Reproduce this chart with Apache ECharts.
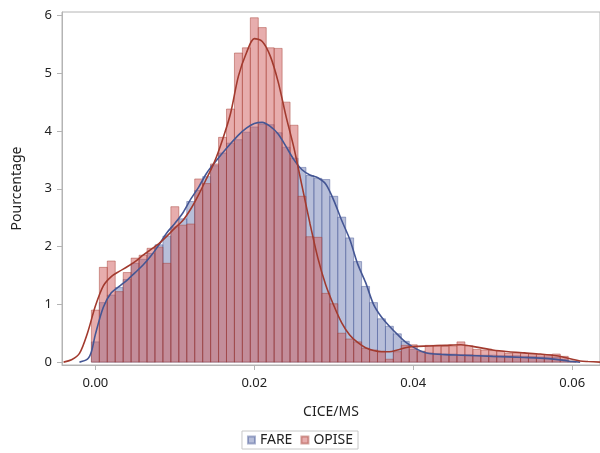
<!DOCTYPE html>
<html>
<head>
<meta charset="utf-8">
<script src="https://cdn.jsdelivr.net/npm/echarts@6/dist/echarts.min.js"></script>
<style>
  html, body { margin: 0; padding: 0; background: #fff; }
  #chart { width: 600px; height: 453px; }
</style>
</head>
<body>
<div id="chart"></div>
<script>
// histogram bins (centres), width 0.001
const binWidth = 0.001;
const binCenters = [
  0.000, 0.001, 0.002, 0.003, 0.004, 0.005, 0.006, 0.007, 0.008, 0.009,
  0.010, 0.011, 0.012, 0.013, 0.014, 0.015, 0.016, 0.017, 0.018, 0.019,
  0.020, 0.021, 0.022, 0.023, 0.024, 0.025, 0.026, 0.027, 0.028, 0.029,
  0.030, 0.031, 0.032, 0.033, 0.034, 0.035, 0.036, 0.037, 0.038, 0.039,
  0.040, 0.041, 0.042, 0.043, 0.044, 0.045, 0.046, 0.047, 0.048, 0.049,
  0.050, 0.051, 0.052, 0.053, 0.054, 0.055, 0.056, 0.057, 0.058, 0.059,
  0.060
];
const fareHist = [
  0.35, 1.03, 1.16, 1.29, 1.43, 1.71, 1.78, 1.88, 2.03, 2.18,
  2.34, 2.48, 2.78, 2.97, 3.21, 3.40, 3.62, 3.79, 3.85, 3.98,
  4.07, 4.12, 4.11, 3.97, 3.72, 3.53, 3.37, 3.23, 3.18, 3.16,
  2.87, 2.51, 2.15, 1.74, 1.31, 1.03, 0.75, 0.62, 0.49, 0.36,
  0.22, 0.18, 0.16, 0.15, 0.14, 0.14, 0.13, 0.13, 0.12, 0.12,
  0.12, 0.11, 0.11, 0.11, 0.10, 0.10, 0.09, 0.09, 0.08, 0.05,
  0.01
];
const opiseHist = [
  0.90, 1.64, 1.75, 1.22, 1.55, 1.80, 1.85, 1.97, 1.99, 1.71,
  2.69, 2.37, 2.39, 3.17, 3.09, 3.43, 3.89, 4.38, 5.35, 5.44,
  5.96, 5.79, 5.44, 5.43, 4.50, 4.10, 2.87, 2.17, 2.16, 1.19,
  1.01, 0.50, 0.40, 0.35, 0.24, 0.21, 0.19, 0.05, 0.18, 0.29,
  0.30, 0.19, 0.29, 0.29, 0.27, 0.28, 0.35, 0.28, 0.22, 0.21,
  0.20, 0.19, 0.15, 0.16, 0.15, 0.14, 0.13, 0.13, 0.14, 0.10,
  0.02
];

// kernel density curves
const fareKdeX = [
  -0.0020, -0.0010, -0.0005, 0.0000, 0.0010, 0.0020, 0.0030, 0.0040, 0.0050, 0.0060,
  0.0070, 0.0080, 0.0090, 0.0100, 0.0110, 0.0120, 0.0130, 0.0140, 0.0150, 0.0160,
  0.0170, 0.0180, 0.0190, 0.0200, 0.0210, 0.0220, 0.0230, 0.0240, 0.0250, 0.0260,
  0.0270, 0.0280, 0.0290, 0.0300, 0.0310, 0.0320, 0.0330, 0.0340, 0.0350, 0.0360,
  0.0370, 0.0380, 0.0390, 0.0400, 0.0410, 0.0420, 0.0440, 0.0460, 0.0500, 0.0540,
  0.0570, 0.0590, 0.0600, 0.0610
];
const fareKdeY = [
  0.00, 0.05, 0.18, 0.48, 0.95, 1.20, 1.31, 1.42, 1.55, 1.68,
  1.84, 2.03, 2.24, 2.40, 2.58, 2.82, 3.03, 3.27, 3.45, 3.62,
  3.78, 3.93, 4.05, 4.13, 4.15, 4.08, 3.95, 3.73, 3.50, 3.33,
  3.24, 3.19, 3.08, 2.80, 2.45, 2.13, 1.70, 1.38, 1.00, 0.78,
  0.62, 0.48, 0.35, 0.26, 0.19, 0.15, 0.13, 0.12, 0.10, 0.08,
  0.06, 0.03, 0.01, 0.00
];
const opiseKdeX = [
  -0.0040, -0.0030, -0.0020, -0.0010, 0.0000, 0.0010, 0.0020, 0.0030, 0.0040, 0.0050,
  0.0060, 0.0070, 0.0080, 0.0090, 0.0100, 0.0110, 0.0120, 0.0130, 0.0140, 0.0150,
  0.0160, 0.0170, 0.0180, 0.0190, 0.0200, 0.0210, 0.0220, 0.0230, 0.0240, 0.0250,
  0.0260, 0.0270, 0.0280, 0.0290, 0.0300, 0.0310, 0.0320, 0.0330, 0.0340, 0.0350,
  0.0360, 0.0370, 0.0380, 0.0390, 0.0400, 0.0420, 0.0440, 0.0460, 0.0480, 0.0500,
  0.0520, 0.0540, 0.0560, 0.0580, 0.0600, 0.0610, 0.0620, 0.0635
];
const opiseKdeY = [
  0.00, 0.04, 0.15, 0.50, 0.97, 1.32, 1.48, 1.57, 1.65, 1.74,
  1.85, 1.95, 2.05, 2.18, 2.32, 2.45, 2.65, 2.90, 3.18, 3.47,
  3.85, 4.30, 4.95, 5.35, 5.60, 5.55, 5.30, 4.85, 4.25, 3.70,
  3.05, 2.40, 1.80, 1.33, 0.98, 0.68, 0.47, 0.34, 0.25, 0.20,
  0.18, 0.18, 0.21, 0.25, 0.27, 0.28, 0.29, 0.30, 0.26, 0.21,
  0.18, 0.16, 0.14, 0.11, 0.05, 0.02, 0.01, 0.00
];

const xTicks = [0, 0.02, 0.04, 0.06];
const yTicks = [0, 1, 2, 3, 4, 5, 6];

const pairs = (xs, ys) => xs.map((x, i) => [x, ys[i]]);

function histSeries(name, values, fill, stroke) {
  return {
    name: name,
    type: "custom",
    encode: { x: 0, y: 1 },
    itemStyle: { color: fill, borderColor: stroke, borderWidth: 1 },
    renderItem: (params, api) => {
      const x = api.value(0);
      const y = api.value(1);
      const p0 = api.coord([x - binWidth / 2, y]);
      const p1 = api.coord([x + binWidth / 2, 0]);
      return {
        type: "rect",
        shape: { x: p0[0], y: p0[1], width: p1[0] - p0[0], height: p1[1] - p0[1] },
        style: { fill: fill, stroke: stroke, lineWidth: 1 }
      };
    },
    data: pairs(binCenters, values)
  };
}

const chart = echarts.init(document.getElementById("chart"));
const font = "'Noto Sans', 'DejaVu Sans', sans-serif";
const axisGray = "#b4b4b4";

chart.setOption({
  animation: false,
  backgroundColor: "#fff",
  textStyle: { fontFamily: font },
  grid: {
    left: 62,
    right: 0,
    top: 12,
    bottom: 88,
    show: true,
    borderColor: axisGray,
    borderWidth: 1
  },
  legend: {
    bottom: 4,
    left: "center",
    data: ["FARE", "OPISE"],
    icon: "rect",
    itemWidth: 7,
    itemHeight: 7,
    itemGap: 8,
    padding: [2, 5, 2, 5],
    borderColor: "#c8c8c8",
    borderWidth: 1,
    textStyle: { fontSize: 14, color: "#222", fontFamily: font }
  },
  xAxis: {
    type: "value",
    min: -0.0042,
    max: 0.0635,
    name: "CICE/MS",
    nameLocation: "middle",
    nameGap: 40,
    nameTextStyle: { fontSize: 14, color: "#222" },
    axisLine: { show: true, onZero: false, lineStyle: { color: axisGray } },
    axisTick: { show: true, length: 5, customValues: xTicks, lineStyle: { color: axisGray } },
    axisLabel: {
      customValues: xTicks,
      margin: 12,
      fontSize: 13,
      color: "#222",
      formatter: v => v.toFixed(2)
    },
    splitLine: { show: false }
  },
  yAxis: {
    type: "value",
    min: -0.05,
    max: 6.06,
    name: "Pourcentage",
    nameLocation: "middle",
    nameGap: 38,
    nameTextStyle: { fontSize: 14, color: "#222" },
    axisLine: { show: true, onZero: false, lineStyle: { color: axisGray } },
    axisTick: { show: true, length: 5, customValues: yTicks, lineStyle: { color: axisGray } },
    axisLabel: {
      customValues: yTicks,
      margin: 10,
      fontSize: 13,
      color: "#222",
      formatter: v => String(Math.round(v))
    },
    splitLine: { show: false }
  },
  series: [
    histSeries("FARE", fareHist, "rgba(111,126,179,0.5)", "rgba(68,86,148,0.45)"),
    histSeries("OPISE", opiseHist, "rgba(208,91,91,0.5)", "rgba(162,58,46,0.45)"),
    {
      name: "FARE densité",
      type: "line",
      smooth: 0.3,
      symbol: "none",
      lineStyle: { color: "#445694", width: 1.6 },
      data: pairs(fareKdeX, fareKdeY)
    },
    {
      name: "OPISE densité",
      type: "line",
      smooth: 0.3,
      symbol: "none",
      lineStyle: { color: "#A23A2E", width: 1.6 },
      data: pairs(opiseKdeX, opiseKdeY)
    }
  ]
});
</script>
</body>
</html>
